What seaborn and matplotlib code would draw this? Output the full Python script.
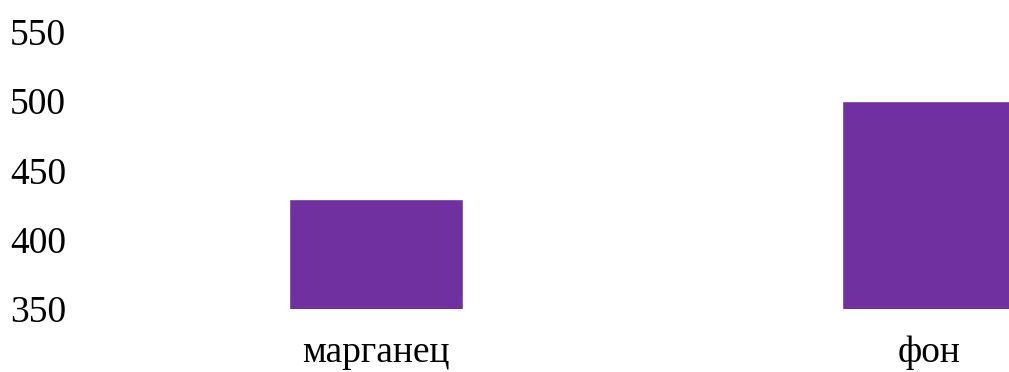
import matplotlib
matplotlib.use("Agg")
import matplotlib.pyplot as plt
import seaborn as sns
import pandas as pd

categories = ["марганец", "фон"]
values = [429, 500]
y_ticks = [350, 400, 450, 500, 550]

sns.set_theme(style="white")
plt.rcParams["font.family"] = ["Liberation Serif", "DejaVu Serif"]

W, H = 1009, 372
fig = plt.figure(figsize=(W / 100, H / 100), dpi=100)
# axes: left edge at 80 px, right edge at figure border
ax = fig.add_axes([80 / W, (H - 309) / H, 1 - 80 / W, (309 - 31.6) / H])

df = pd.DataFrame({"cat": categories, "val": values})
sns.barplot(data=df, x="cat", y="val", color="#7030A0", saturation=1,
            width=0.315, ax=ax)

ax.set_ylim(350, 550)
ax.set_yticks(y_ticks)
ax.set_xlim(-0.535, 1.1447)
ax.set_xlabel("")
ax.set_ylabel("")
for s in ax.spines.values():
    s.set_visible(False)
ax.tick_params(axis="y", length=0, pad=10, labelsize=27, labelcolor="black")
ax.tick_params(axis="x", length=0, pad=19, labelsize=27, labelcolor="black")
ax.grid(False)

fig.savefig("out.png", dpi=100)
